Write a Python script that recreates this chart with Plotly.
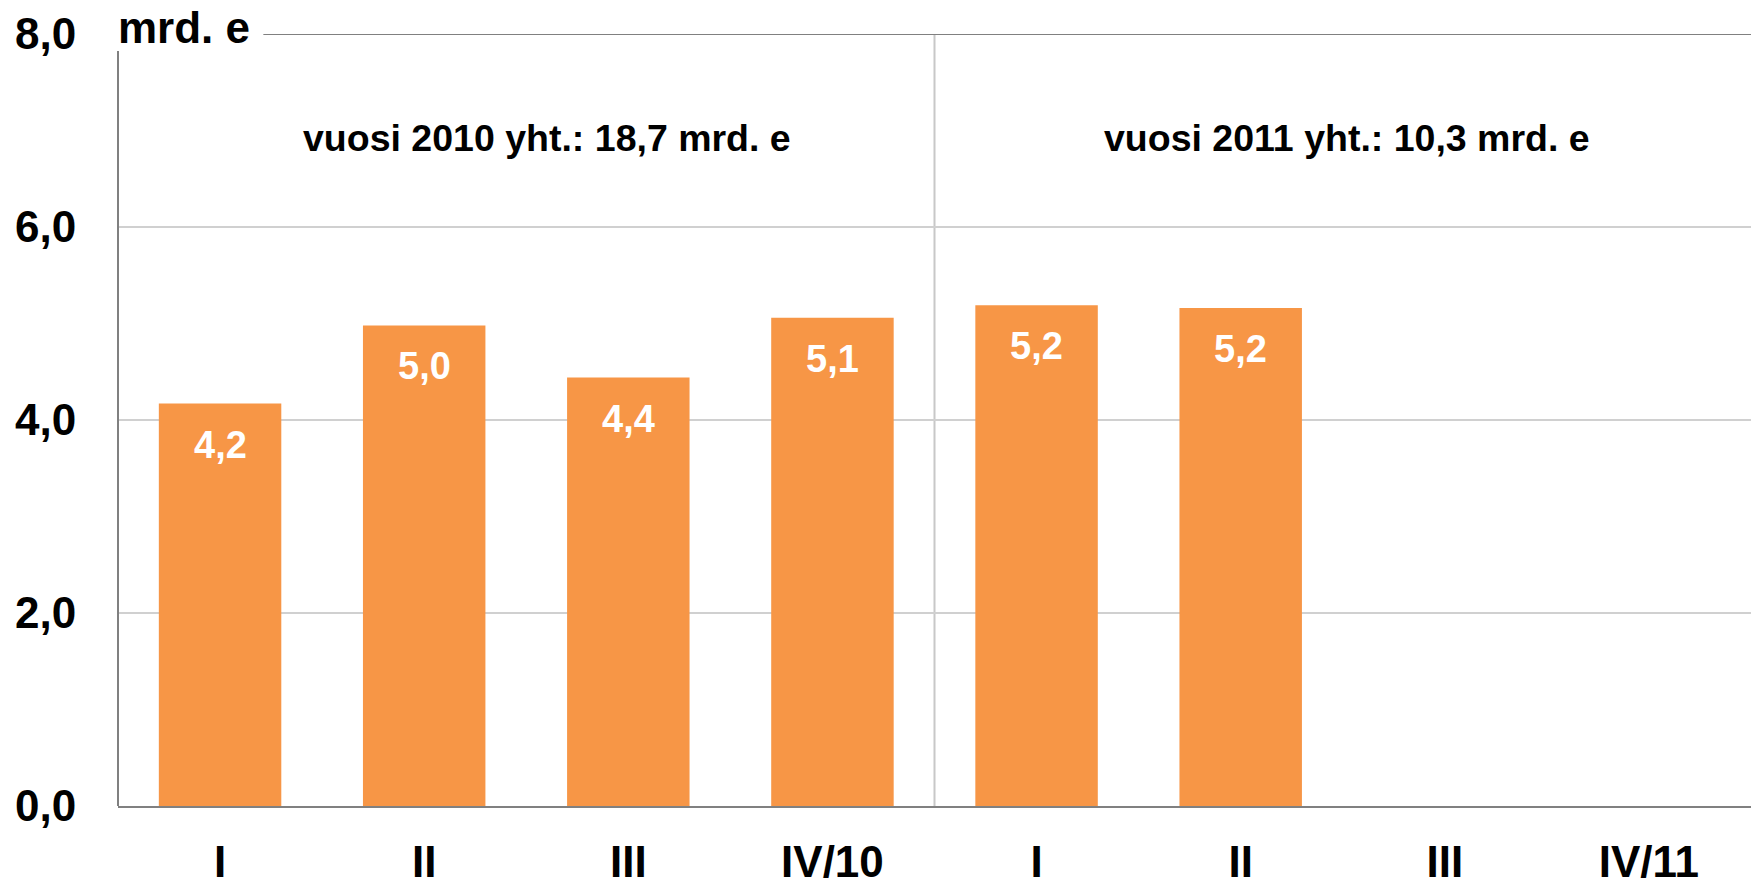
import plotly.graph_objects as go

# Data
categories = ["I", "II", "III", "IV/10", "I", "II", "III", "IV/11"]
values = [4.17, 4.98, 4.44, 5.06, 5.19, 5.16, None, None]
value_labels = ["4,2", "5,0", "4,4", "5,1", "5,2", "5,2", "", ""]
y_ticks = [0, 2, 4, 6, 8]
y_tick_labels = ["0,0", "2,0", "4,0", "6,0", "8,0"]
year_notes = ["vuosi 2010 yht.: 18,7 mrd. e", "vuosi 2011 yht.: 10,3 mrd. e"]
year_note_x = [1.6, 5.52]
unit_label = "mrd. e"

positions = list(range(len(categories)))
FONT = "Liberation Sans, Arial, sans-serif"
BAR = "#F79646"
AXIS = "#808080"
GRID = "#D0D0D0"

fig = go.Figure()
fig.add_trace(go.Bar(
    x=positions, y=values, width=0.6,
    marker=dict(color=BAR, line=dict(width=0)),
    hoverinfo="skip", showlegend=False,
))

# value labels inside bars
for xp, v, lab in zip(positions, values, value_labels):
    if v is None:
        continue
    fig.add_annotation(x=xp, y=v, xref="x", yref="y", text=lab, showarrow=False,
                       yanchor="top", yshift=-18,
                       font=dict(family=FONT, size=38, color="white", weight="bold"))

# year totals
for xp, t in zip(year_note_x, year_notes):
    fig.add_annotation(x=xp, y=6.92, xref="x", yref="y", text=t, showarrow=False,
                       font=dict(family=FONT, size=37.5, color="black", weight="bold"))

# unit label
fig.add_annotation(x=0.0, y=1.0, xref="paper", yref="paper", text=unit_label,
                   showarrow=False, xanchor="left", yanchor="middle", yshift=7, xshift=-2,
                   font=dict(family=FONT, size=44, color="black", weight="bold"))

# divider between years
fig.add_shape(type="line", xref="x", yref="y", x0=3.5, x1=3.5, y0=0, y1=8,
              line=dict(color="#C8C8C8", width=2), layer="below")
# top border (starts after unit label)
fig.add_shape(type="line", xref="paper", yref="y", x0=0.089, x1=1.0, y0=8, y1=8,
              line=dict(color=AXIS, width=2))
# left axis line (stops below unit label)
fig.add_shape(type="line", xref="paper", yref="paper", x0=0, x1=0, y0=0, y1=0.978,
              line=dict(color=AXIS, width=2))

fig.update_layout(
    width=1751, height=882,
    margin=dict(l=118, r=0, t=34, b=76),
    plot_bgcolor="white", paper_bgcolor="white",
    bargap=0.4,
    xaxis=dict(
        range=[-0.5, 7.5], tickmode="array", tickvals=positions, ticktext=categories,
        showgrid=False, zeroline=False, showline=True, linecolor=AXIS, linewidth=2,
        ticks="outside", ticklen=16, tickcolor="rgba(0,0,0,0)", automargin=False,
        tickfont=dict(family=FONT, size=44, color="black", weight="bold"),
        fixedrange=True,
    ),
    yaxis=dict(
        range=[0, 8], tickmode="array", tickvals=y_ticks, ticktext=y_tick_labels,
        showgrid=True, gridcolor=GRID, gridwidth=1.5, zeroline=False, showline=False,
        ticks="outside", ticklen=32, tickcolor="rgba(0,0,0,0)", automargin=False,
        tickfont=dict(family=FONT, size=44, color="black", weight="bold"),
        fixedrange=True,
    ),
)

fig.write_html(
    "out.html",
    config={"displayModeBar": False},
    post_script="document.body.style.margin='0';document.body.style.overflow='hidden';",
)
